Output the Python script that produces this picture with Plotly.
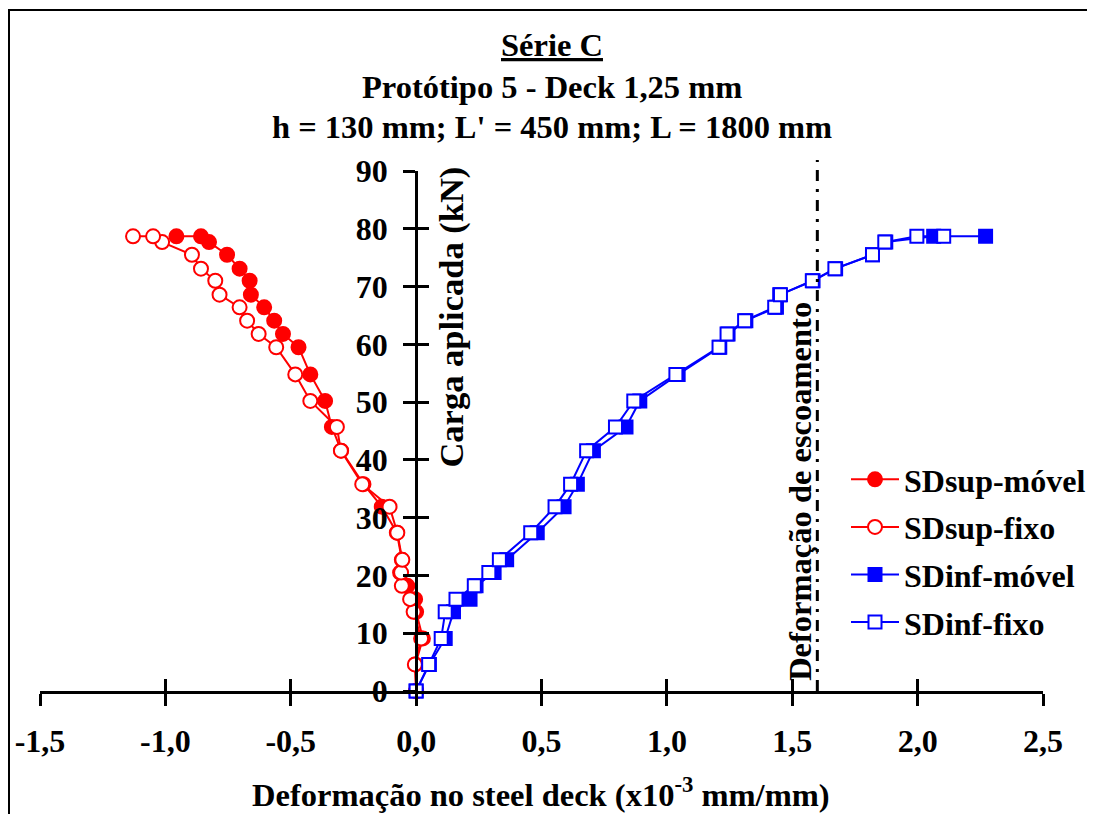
import plotly.graph_objects as go

# ---- data ----
load = [0, 4.6, 9.1, 13.7, 15.9, 18.2, 20.5, 22.7, 27.4, 31.9, 35.8, 41.6, 45.7, 50.2,
        54.8, 59.5, 61.8, 64.1, 66.4, 68.6, 71.0, 73.1, 75.5, 77.7, 78.7, 78.7]
sdsup_movel = [0, -0.003, 0.027, 0, -0.004, -0.035, -0.064, -0.057, -0.077, -0.137, -0.21,
               -0.299, -0.336, -0.363, -0.422, -0.469, -0.531, -0.566, -0.606, -0.659, -0.664,
               -0.704, -0.754, -0.826, -0.858, -0.956]
sdsup_fixo = [0, -0.005, 0.02, -0.01, -0.024, -0.057, -0.06, -0.055, -0.075, -0.106, -0.215,
              -0.30, -0.316, -0.422, -0.482, -0.558, -0.628, -0.674, -0.704, -0.784, -0.801,
              -0.858, -0.894, -1.013, -1.049, -1.129]
sdinf_movel = [0, 0.053, 0.116, 0.149, 0.215, 0.239, 0.311, 0.361, 0.483, 0.590, 0.643, 0.707,
               0.837, 0.892, 1.045, 1.211, 1.244, 1.315, 1.437, 1.45, 1.583, 1.673, 1.82, 1.873,
               2.064, 2.271]
sdinf_fixo = [0, 0.05, 0.10, 0.116, 0.159, 0.232, 0.29, 0.332, 0.457, 0.554, 0.616, 0.680,
              0.795, 0.868, 1.036, 1.208, 1.24, 1.31, 1.43, 1.453, 1.58, 1.67, 1.82, 1.869,
              1.997, 2.104]
yield_strain = 1.6

x_tickvals = [-1.5, -1.0, -0.5, 0.0, 0.5, 1.0, 1.5, 2.0, 2.5]
x_ticktext = ["-1,5", "-1,0", "-0,5", "0,0", "0,5", "1,0", "1,5", "2,0", "2,5"]
y_tickvals = [0, 10, 20, 30, 40, 50, 60, 70, 80, 90]

FONT = "Liberation Serif"
FS = 32
FST = 32.5
RED = "#FF0000"
BLUE = "#0000FF"

fig = go.Figure()

def add(xs, name, color, symbol, filled):
    fig.add_trace(go.Scatter(
        x=xs, y=load, mode="lines+markers", name=name, legendgroup=name,
        line=dict(color=color, width=2),
        marker=dict(symbol=symbol, size=14 if symbol == "circle" else 13,
                    color=color if filled else "white",
                    line=dict(color=color, width=2)),
        cliponaxis=False,
    ))

add(sdsup_movel, "SDsup-móvel", RED, "circle", True)
add(sdsup_fixo, "SDsup-fixo", RED, "circle", False)
add(sdinf_movel, "SDinf-móvel", BLUE, "square", True)
add(sdinf_fixo, "SDinf-fixo", BLUE, "square", False)

# the page body has an 8 px margin: figure origin sits at screen (8, 8)
OFF = 8
W, H = 1095 - OFF, 814 - OFF
PL, PR, PT, PB = 40, 1043, 171, 691   # plot area in screen pixels
L, R, T, B = PL - OFF, W - (PR - OFF), PT - OFF, H - (PB - OFF)
pw = W - L - R
ph = H - T - B

def px2paper(sx, sy):
    fx, fy = sx - OFF, sy - OFF
    return (fx - L) / pw, (H - B - fy) / ph

xpos0 = (0 - (-1.5)) / 4.0

axis_common = dict(showgrid=False, zeroline=False, linecolor="black", linewidth=3,
                   tickcolor="black", tickwidth=3, ticklen=12)

lx, ly = px2paper(846, 452)
fig.update_layout(
    width=W, height=H,
    margin=dict(l=L, r=R, t=T, b=B, autoexpand=False),
    paper_bgcolor="white", plot_bgcolor="white",
    font=dict(family=FONT, size=FS, color="black", weight="bold"),
    showlegend=True,
    legend=dict(x=lx, y=ly, xanchor="left", yanchor="top",
                bgcolor="rgba(0,0,0,0)", font=dict(family=FONT, size=FS, weight="bold"),
                itemwidth=48, tracegroupgap=3),
    xaxis=dict(range=[-1.5, 2.5], tickvals=x_tickvals, ticktext=x_ticktext, ticks="outside",
               showline=True, anchor="y", ticklabelstandoff=8,
               tickfont=dict(family=FONT, size=FS, weight="bold"), **axis_common),
    xaxis2=dict(range=[-1.5, 2.5], tickvals=x_tickvals, ticks="inside", showticklabels=False,
                showline=False, overlaying="x", anchor="y", side="bottom", **axis_common),
    yaxis=dict(range=[0, 90], tickvals=y_tickvals, ticks="outside", showline=True,
               anchor="free", position=xpos0, ticklabelstandoff=9,
               tickfont=dict(family=FONT, size=FS, weight="bold"), **axis_common),
    yaxis2=dict(range=[0, 90], tickvals=y_tickvals, ticks="inside", showticklabels=False,
                showline=False, overlaying="y", anchor="free", position=xpos0, side="left",
                **axis_common),
)

# dummy trace to activate the overlay axes
fig.add_trace(go.Scatter(x=[None], y=[None], xaxis="x2", yaxis="y2", showlegend=False,
                         hoverinfo="skip"))

# yield strain line (dash-dot)
_, ytop = px2paper(0, 160)
fig.add_shape(type="line", xref="x", yref="paper", x0=yield_strain, x1=yield_strain,
              y0=0, y1=ytop, line=dict(color="black", width=3, dash="11px,8px,3px,8px"))

# outer border (top and left visible; right and bottom run off the page)
bx0, by1 = px2paper(9, 10)
bx1, by0 = px2paper(1140, 860)
fig.add_shape(type="rect", xref="paper", yref="paper", x0=bx0, x1=bx1, y0=by0, y1=by1,
              line=dict(color="black", width=2), fillcolor="rgba(0,0,0,0)", layer="below")

for text, sy in [("<u>Série C</u>", 45), ("Protótipo 5 - Deck 1,25 mm", 87),
                 ("h = 130 mm; L' = 450 mm; L = 1800 mm", 127)]:
    tx, ty = px2paper(552, sy)
    fig.add_annotation(text=text, xref="paper", yref="paper", x=tx, y=ty, showarrow=False,
                       xanchor="center", yanchor="middle",
                       font=dict(family=FONT, size=FST, weight="bold"))

# x axis title
ax, ay = px2paper(541, 792)
fig.add_annotation(text="Deformação no steel deck (x10<sup>-3</sup> mm/mm)", xref="paper",
                   yref="paper", x=ax, y=ay, showarrow=False, xanchor="center",
                   yanchor="middle", font=dict(family=FONT, size=FST, weight="bold"))

# y axis title
fig.add_annotation(text="Carga aplicada (kN)", xref="x", yref="y", x=0.143, y=64.8,
                   showarrow=False, textangle=-90, xanchor="center", yanchor="middle",
                   font=dict(family=FONT, size=34.5, weight="bold"))

# yield label
fig.add_annotation(text="Deformação de escoamento", xref="x", yref="y", x=1.53, y=34.6,
                   showarrow=False, textangle=-90, xanchor="center", yanchor="middle",
                   font=dict(family=FONT, size=FST, weight="bold"))

fig.write_html("out.html")
